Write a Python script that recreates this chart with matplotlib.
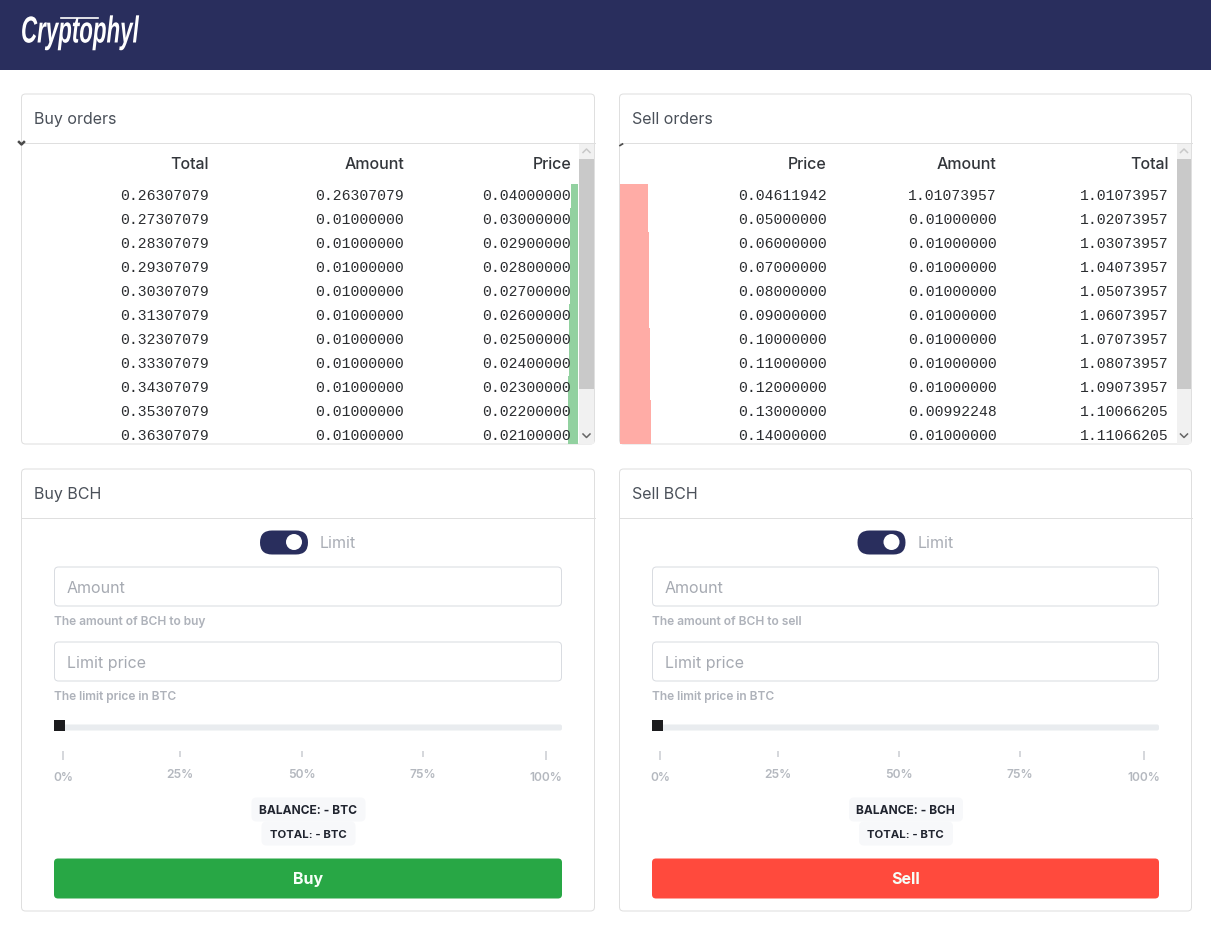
import matplotlib
matplotlib.use("Agg")
import matplotlib.pyplot as plt
from matplotlib.patches import FancyBboxPatch, Rectangle, Circle
from matplotlib.patheffects import AbstractPathEffect
from matplotlib.transforms import Affine2D

buy_total = [0.26307079, 0.27307079, 0.28307079, 0.29307079, 0.30307079, 0.31307079,
             0.32307079, 0.33307079, 0.34307079, 0.35307079, 0.36307079]
buy_amount = [0.26307079, 0.01, 0.01, 0.01, 0.01, 0.01, 0.01, 0.01, 0.01, 0.01, 0.01]
buy_price = [0.04, 0.03, 0.029, 0.028, 0.027, 0.026, 0.025, 0.024, 0.023, 0.022, 0.021]

sell_price = [0.04611942, 0.05, 0.06, 0.07, 0.08, 0.09, 0.10, 0.11, 0.12, 0.13, 0.14]
sell_amount = [1.01073957, 0.01, 0.01, 0.01, 0.01, 0.01, 0.01, 0.01, 0.01, 0.00992248, 0.01]
sell_total = [1.01073957, 1.02073957, 1.03073957, 1.04073957, 1.05073957, 1.06073957,
              1.07073957, 1.08073957, 1.09073957, 1.10066205, 1.11066205]

slider_labels = ["0%", "25%", "50%", "75%", "100%"]

NAVY = "#292e5d"
BORDER = "#dfdfdf"
FONT = ["Inter", "DejaVu Sans"]


class Squeeze(AbstractPathEffect):
    # no condensed font here, so narrow the logo text around its anchor
    def __init__(self, x, y, sx):
        super().__init__()
        self.m = Affine2D().translate(-x, -y).scale(sx, 1).translate(x, y)

    def draw_path(self, renderer, gc, tpath, affine, rgbFace=None):
        renderer.draw_path(gc, tpath, affine + self.m, rgbFace)


def px(size):
    return size * 0.72


def box(ax, x0, y0, x1, y1, fc="white", ec="none", lw=0.72, r=4, z=1):
    p = FancyBboxPatch((x0, y0), x1 - x0, y1 - y0, boxstyle=f"round,pad=0,rounding_size={r}",
                       fc=fc, ec=ec, lw=lw, zorder=z)
    ax.add_patch(p)
    return p


def label(ax, x, y, s, size=16, color="#4a5059", ha="left", weight="normal", family=FONT, z=6):
    ax.text(x, y - 0.5, s, fontsize=px(size), color=color, ha=ha, va="center_baseline",
            fontweight=weight, family=family, zorder=z)


def order_panel(ax, x0, x1, title, columns, names, bars, buy_side):
    box(ax, x0, 94.5, x1, 444.5, ec=BORDER)
    ax.plot([x0, x1], [143.5, 143.5], color=BORDER, lw=0.72, zorder=2)
    label(ax, x0 + 12.5, 118, title)

    # scrollbar
    sx0, sx1 = (579, 594) if buy_side else (1177, 1191)
    ax.add_patch(Rectangle((sx0, 144), sx1 - sx0, 300, fc="#f1f1f1", ec="none", zorder=3))
    ax.add_patch(Rectangle((sx0, 159), sx1 - sx0, 230, fc="#c9c9c9", ec="none", zorder=4))
    cx = (sx0 + sx1) / 2
    ax.plot([cx - 3.5, cx, cx + 3.5], [153, 149.5, 153], color="#c8c8c8", lw=1.1, zorder=5)
    ax.plot([cx - 3.5, cx, cx + 3.5], [434.5, 438, 434.5], color="#666666", lw=1.1, zorder=5)

    # depth bars
    clip = Rectangle((x0, 144), x1 - x0, 300, transform=ax.transData)
    rows = [196 + 24 * i for i in range(len(bars))]
    widths = [round(v * 27.8) for v in bars]
    if buy_side:
        drawn = ax.barh(rows, widths, height=24, left=[578 - w for w in widths],
                        color="#92d1a0", zorder=2, antialiased=False)
        col_x = (x0 + 187, x0 + 382, x0 + 549)
    else:
        drawn = ax.barh(rows, widths, height=24, left=620, color="#ffaca6", zorder=2, antialiased=False)
        col_x = (826, 996, 1168)
    for b in drawn:
        b.set_clip_path(clip)

    for name, values, x in zip(names, columns, col_x):
        label(ax, x + 0.5, 163, name, color="#33363b", ha="right", weight="medium")
        for y, v in zip(rows, values):
            label(ax, x + 0.5, y - 1.2, f"{v:.8f}", size=14.8, color="#2b2d30", ha="right",
                  family="Liberation Mono")


def trade_panel(ax, x0, x1, left, right, tick_x, verb, color, balance_coin):
    box(ax, x0, 469.5, x1, 911.5, ec=BORDER)
    ax.plot([x0, x1], [518.5, 518.5], color=BORDER, lw=0.72, zorder=2)
    label(ax, x0 + 12.5, 493, f"{verb} BCH")

    mid = (left + right) / 2
    tx = mid - 48
    box(ax, tx, 531, tx + 48, 555, fc=NAVY, r=12, z=3)
    ax.add_patch(Circle((tx + 34, 542.5), 8, fc="white", ec="none", zorder=4))
    label(ax, tx + 60, 542, "Limit", color="#a9adb5")

    box(ax, left + 0.5, 567.5, right - 0.5, 606.5, ec="#d9dce1")
    label(ax, left + 13, 587, "Amount", color="#a6aab2")
    label(ax, left, 620.7, f"The amount of BCH to {verb.lower()}", size=12, color="#aeb2ba", weight="semibold")
    box(ax, left + 0.5, 642.5, right - 0.5, 681.5, ec="#d9dce1")
    label(ax, left + 13, 662, "Limit price", color="#a6aab2")
    label(ax, left, 695.7, "The limit price in BTC", size=12, color="#aeb2ba", weight="semibold")

    # slider
    box(ax, left, 725, right, 731, fc="#e9ecef", r=2, z=2)
    ax.add_patch(Rectangle((left, 720), 11, 11, fc="#1c1c1e", ec="none", zorder=4))
    for i, (x, s) in enumerate(zip(tick_x, slider_labels)):
        end = i in (0, 4)
        ax.plot([x, x], [751, 760 if end else 757], color="#ced1d6", lw=1.2, zorder=3, solid_capstyle="butt")
        label(ax, x, 777 if end else 774, s, size=12, color="#b4b8bf", ha="center", weight="semibold")

    box(ax, mid + 0.5 - 57, 798, mid + 0.5 + 57, 822, fc="#f7f8fa", r=5, z=2)
    box(ax, mid + 0.5 - 47, 822, mid + 0.5 + 47, 846, fc="#f7f8fa", r=5, z=2)
    label(ax, mid, 810, f"BALANCE: - {balance_coin}", size=12, color="#20242f", ha="center", weight="bold")
    label(ax, mid, 834, "TOTAL: - BTC", size=11.4, color="#20242f", ha="center", weight="bold")

    box(ax, left, 859, right, 899, fc=color, r=4, z=2)
    label(ax, mid, 878, verb, color="#f6fff8", ha="center", weight="bold")


fig = plt.figure(figsize=(12.11, 9.29), dpi=100)
ax = fig.add_axes([0, 0, 1, 1])
ax.set_xlim(0, 1211)
ax.set_ylim(928.5, -0.5)
ax.axis("off")

ax.add_patch(Rectangle((0, 0), 1211, 70, fc=NAVY, ec="none", zorder=1))
logo = ax.text(21, 43, "Cryptophyl", color="white", fontsize=27, style="italic", fontweight="bold",
               family=["Liberation Sans", "DejaVu Sans"], va="baseline", zorder=3)
logo.set_path_effects([Squeeze(21, 929 - 43.5, 0.595)])
ax.plot([61, 98], [18, 18], color="white", lw=1.2, zorder=3)

order_panel(ax, 21.5, 594.5, "Buy orders", [buy_total, buy_amount, buy_price],
            ["Total", "Amount", "Price"], buy_total, True)
order_panel(ax, 619.5, 1191.5, "Sell orders", [sell_price, sell_amount, sell_total],
            ["Price", "Amount", "Total"], sell_total, False)

# little stray arrows at the corner of each table
ax.plot([19, 21.5, 24], [142.5, 145, 142.5], color="#4a4a4a", lw=1.8, zorder=6)
ax.plot([620, 622.5], [146, 144.5], color="#4a4a4a", lw=1.2, zorder=6)

trade_panel(ax, 21.5, 594.5, 54, 562, [63, 180, 302, 423, 546], "Buy", "#28a745", "BTC")
trade_panel(ax, 619.5, 1191.5, 652, 1159, [660, 778, 899, 1020, 1144], "Sell", "#ff4a3d", "BCH")

fig.savefig("out.png", dpi=100)
